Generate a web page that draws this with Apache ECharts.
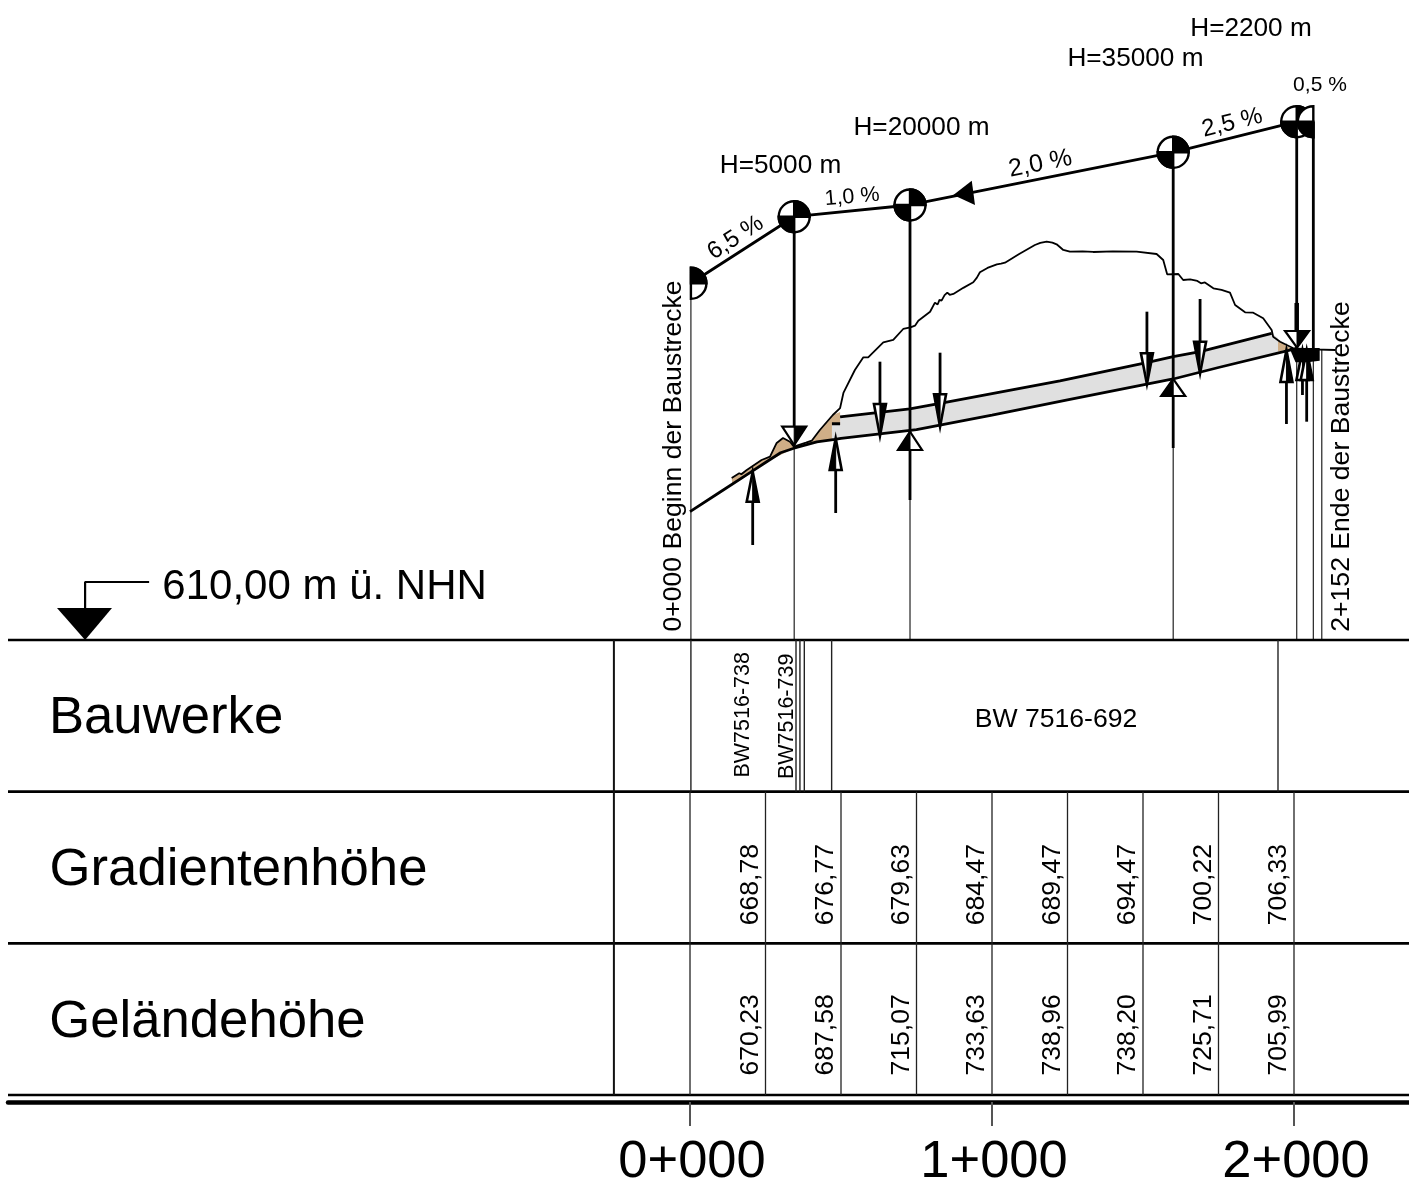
<!DOCTYPE html>
<html><head><meta charset="utf-8">
<style>html,body{margin:0;padding:0;background:#fff}#c{width:1409px;height:1187px}</style>
<script src="https://cdn.jsdelivr.net/npm/echarts@6/dist/echarts.min.js"></script>
</head><body><div id="c"></div>
<script>
// ---- data: station [m], elevation [m ü. NHN] ----
const tickStations = [0, 1000, 2000];
const tickLabels = ['0+000', '1+000', '2+000'];
const tableStations = [250, 500, 750, 1000, 1250, 1500, 1750, 2000];
const gradientHeights = ['668,78', '676,77', '679,63', '684,47', '689,47', '694,47', '700,22', '706,33'];
const terrainHeights = ['670,23', '687,58', '715,07', '733,63', '738,96', '738,20', '725,71', '705,99'];
const terrain = [[138,663.64],[163,665.2],[170,664.9],[188,666.3],[237,669.6],[265,670.69],[287,675.23],[308,676.88],[331,675.66],[344,674],[384,675.33],[403,675.99],[430,679.53],[473,684.5],[497,686.8],[508,691.79],[546,699.4],[574,703.61],[590,703.61],[640,708.57],[673,709.34],[706,712.98],[730,713.5],[745,714.07],[756,715.73],[795,718.7],[811,721.69],[820,721.1],[826,722.6],[833,722.35],[843,724.2],[852,725],[860,724.3],[872,724.57],[905,726.6],[938,728.44],[950,730],[960,731.75],[985,733.2],[1016,734.4],[1030,734.6],[1043,734.93],[1090,737.8],[1142,740.79],[1160,741.5],[1181,741.89],[1200,741.6],[1214,741.02],[1236,739.14],[1258,738.57],[1300,738.7],[1335,738.48],[1400,738.65],[1479,738.57],[1545,737.81],[1567,735.83],[1580,731.09],[1617,731.19],[1633,729.2],[1656,729.44],[1680,728.9],[1692,728.1],[1705,728.4],[1733,726.45],[1760,725.9],[1788,725],[1805,720.93],[1838,718.51],[1865,718.38],[1898,716.52],[1926,712.65],[1931,710.43],[1954,708.77],[1998,706.59],[2060,706.2],[2136,706.02]];
const roadLower = [[0,652.5],[100,659],[200,665.5],[250,668.78],[300,672],[344,673.5],[420,675.6],[480,676.4],[500,676.77],[750,679.63],[1000,684.47],[1250,689.47],[1500,694.47],[1600,696.42],[1750,700.22],[2000,706.33],[2010,706.6]];
const roadUpper = [[497,683.84],[728,686.49],[828,688.38],[1225,695.76],[1512,701.82],[1600,703.8],[1689,705.46],[1926,711.55]];
const roadStub = [[470,681.6],[497,681.6]];
const profile = [[3,728.11],[345,750.16],[728.5,754.04],[1600,771.49],[2009,781.62],[2064,781.62]];
const profileMarks = ['right','full','full','full','full','left'];
const greyBand = [[470,681.2],[497,681.2],[497,683.84],[728,686.49],[828,688.38],[1225,695.76],[1512,701.82],[1600,703.8],[1689,705.46],[1926,711.55],[1947,710],[1947,705.4],[1750,700.22],[1500,694.47],[1250,689.47],[1000,684.47],[750,679.63],[500,676.77],[470,676.3]];
const tanA = [[138,663.64],[188,666.3],[237,669.6],[265,670.69],[287,675.23],[308,676.88],[331,675.66],[344,674],[344,673.5],[250,668.78],[200,665.5],[140,661.7]];
const tanB = [[384,675.33],[403,675.99],[430,679.53],[473,684.5],[497,685.5],[497,681.2],[470,681.2],[470,676.3],[420,675.6],[384,675]];
const tanC = [[1947,709],[1954,708.77],[1990,706.5],[1947,705.4]];
const endBlob = [[1985,706.7],[2085,706.7],[2085,702.5],[2045,702],[2005,702]];
const slopeArrow = [[872,757.35],[933,762.09],[943.7,754.04]];
const datumMark = [[-2003,610],[-2096,620.6],[-1914,620.6]];
const datumLeader = [[-2003,620.6],[-2003,629.2],[-1791,629.2]];
// [station, tip, base, tail, black side (-1 left, 1 right)]
const arrows = [[207.6,665.72,655.79,641.45,1],[482.4,676.79,666.29,652.05,-1],[629,677.55,688.14,702.15,1],[828,680.62,691.35,705.13,-1],[1513,694.76,704.93,718.71,1],[1689,698.31,708.77,722.91,-1],[1975,706.02,695.43,681.52,1],[2028,706.02,696.09,691.12,1],[2042,706.02,696.09,682.28,1]];
const wedges = [[345,674.56,680.62,680.62,1],[728.5,678.97,672.91,672.91,-1],[1600,696.42,690.79,690.79,-1],[2010,706.79,712.31,712.31,1]];
const heavyDrops = [[345,750.16,345,674.56],[728.5,754.04,728.5,656.35],[1600,771.49,1600,673.57],[2009,781.62,2009,706.7],[2064,781.62,2064,706]];
const lightDrops = [[3,728.11,3,610],[345,674.56,345,610],[728.5,656.35,728.5,610],[1600,673.57,1600,610],[2009,706.7,2009,610],[2064,706,2064,610],[2092,706,2092,610]];
const thickStub = [[2009,721.6,2009,712.3]];
const rowRules = [0, 1, 2, 3];
const tableLeft = -2258.3, tableRight = 2380.8, headerRule = -252;
const buildingRules = [3, 351, 364, 378.5, 469, 1947];
const profileLabels = [
  ['H=5000 m',299.7,767.6,0,26.2],['H=20000 m',766.6,780.2,0,26.2],['H=35000 m',1475,803.05,0,26.2],['H=2200 m',1857.6,813,0,26.2],
  ['0,5 %',2086,794.1,0,21],['6,5 %',149,743.44,33,24],['1,0 %',536.4,757.02,5,21.5],['2,0 %',1159,768.28,11,25],['2,5 %',1794.7,781.52,14,24],
  ['0+000 Beginn der Baustrecke',-53,670.6,90,26.6],['2+152 Ende der Baustrecke',2159,667.1,90,26.6],['610,00 m ü. NHN',-1210,628.54,0,42]];
const rowLabels = [['Bauwerke',-1735,0.5,0,52.7],['Gradientenhöhe',-1495,1.5,0,52.7],['Geländehöhe',-1598,2.5,0,52.7],
  ['BW 7516-692',1212,0.51,0,26.6],['BW7516-738',175.5,0.5,90,21.5],['BW7516-739',321,0.51,90,21.5]];

// ---- drawing ----
const FONT = '"Liberation Sans", Arial, sans-serif';
const txt = (list, y, z) => ({type:'scatter', yAxisIndex:y, z, symbolSize:0, silent:true, itemStyle:{opacity:1}, data:list.map(l=>({
  value:[l[1],l[2]], itemStyle:{opacity:1}, label:{show:true, opacity:1, position:'inside', offset:l[3]===90?[1,0]:[0,Math.round(l[4]*0.06)], formatter:l[0], rotate:l[3], fontSize:l[4], fontFamily:FONT, color:'#000', align:'center', verticalAlign:'middle'}}))});
const segs = (rows, width, color, y, z) => ({type:'custom', yAxisIndex:y, z, silent:true, encode:{x:[0,2],y:[1,3]}, data:rows,
  renderItem:(p,api)=>{const a=api.coord([api.value(0),api.value(1)]),b=api.coord([api.value(2),api.value(3)]);
    return {type:'line',shape:{x1:a[0],y1:a[1],x2:b[0],y2:b[1]},style:{stroke:color,lineWidth:width}};}});
const poly = (pts, fill, z) => ({type:'custom', z, silent:true, encode:{x:0,y:1}, data:[pts[0]],
  renderItem:(p,api)=>({type:'polygon',shape:{points:pts.map(q=>api.coord(q))},style:{fill}})});
const line = (pts, width, z) => ({type:'line', z, silent:true, data:pts, showSymbol:false, symbol:'none', lineStyle:{color:'#000',width}});
const heads = (rows, hw, sw, z) => ({type:'custom', z, silent:true, encode:{x:0,y:[1,2,3]}, data:rows,
  renderItem:(p,api)=>{const s=api.value(0),t=api.coord([s,api.value(1)]),b=api.coord([s,api.value(2)]),e=api.coord([s,api.value(3)]),d=api.value(4);
    return {type:'group',children:[
      {type:'line',shape:{x1:e[0],y1:e[1],x2:b[0],y2:b[1]},style:{stroke:'#000',lineWidth:2.8}},
      {type:'polygon',shape:{points:[t,[b[0]-hw,b[1]],[b[0]+hw,b[1]]]},style:{fill:'#fff',stroke:'#000',lineWidth:sw}},
      {type:'polygon',shape:{points:[t,[b[0]+d*hw,b[1]],b]},style:{fill:'#000',stroke:'#000',lineWidth:1}}]};}});
const R = 15.5;
const discs = {type:'custom', z:8, silent:true, encode:{x:0,y:1}, data:profile,
  renderItem:(p,api)=>{const c=api.coord([api.value(0),api.value(1)]),k=profileMarks[p.dataIndex],P=Math.PI;
    const sec=(a,b,fill,stroke)=>({type:'sector',shape:{cx:c[0],cy:c[1],r:R,r0:0,startAngle:a,endAngle:b},style:{fill,stroke,lineWidth:2.4}});
    if(k==='right')return{type:'group',children:[sec(-P/2,P/2,'#fff','#000'),sec(-P/2,0,'#000','#000')]};
    if(k==='left')return{type:'group',children:[sec(P/2,3*P/2,'#fff','#000'),sec(P/2,P,'#000','#000')]};
    return{type:'group',children:[sec(0,2*P,'#fff','#000'),sec(-P/2,0,'#000','#000'),sec(P/2,P,'#000','#000')]};}};

const tableVerticals = [[0,1,0,3]].concat(tableStations.map(s=>[s,1,s,3]));
const series = [
  poly(greyBand,'#e0e0e0',1), poly(tanA,'#cfae87',1), poly(tanB,'#cfae87',1), poly(tanC,'#cfae87',1),
  line(terrain,1.8,3), line(roadLower,2.8,3), line(roadUpper,2.8,3), line(roadStub,2.8,3), line(profile,2.8,3),
  segs(lightDrops,1.2,'#222',0,2), segs(heavyDrops,2.8,'#000',0,3), segs(thickStub,4.5,'#000',0,3),
  poly(slopeArrow,'#000',5), poly(endBlob,'#000',7), heads(arrows,6,2.6,5), heads(wedges,12,2.2,6), discs,
  poly(datumMark,'#000',5), line(datumLeader,2.2,3),
  segs(rowRules.map(r=>[tableLeft,r,tableRight,r]),2.6,'#000',1,3),
  segs([[headerRule,0,headerRule,3]],2,'#111',1,3),
  segs(buildingRules.map(s=>[s,0,s,1]),1.4,'#222',1,3),
  segs(tableVerticals,1.3,'#222',1,3),
  txt(profileLabels,0,10), txt(rowLabels,1,10),
  txt(tableStations.map((s,i)=>[gradientHeights[i],s-50,1.62,90,26.6]),1,10),
  txt(tableStations.map((s,i)=>[terrainHeights[i],s-50,2.61,90,26.6]),1,10)
];
const chart = echarts.init(document.getElementById('c'), null, {renderer:'canvas'});
chart.setOption({
  animation:false, backgroundColor:'#fff', tooltip:{show:false},
  grid:{left:8,right:0,top:0,bottom:85,containLabel:false,outerBoundsMode:'none'},
  xAxis:{type:'value',min:tableLeft,max:tableRight,splitLine:{show:false},
    axisLine:{show:true,onZero:false,lineStyle:{color:'#000',width:4.5}},
    axisTick:{show:true,length:24,customValues:tickStations,lineStyle:{color:'#555',width:2}},
    axisLabel:{show:true,customValues:tickStations,margin:34,padding:[0,0,0,4],fontSize:52.5,fontFamily:FONT,color:'#000',
      formatter:v=>tickLabels[tickStations.indexOf(v)]}},
  yAxis:[{type:'value',show:false,min:457,max:821.92,splitLine:{show:false}},
         {type:'value',show:false,inverse:true,min:-4.2197,max:3.0462,splitLine:{show:false}}],
  series
});
</script></body></html>
